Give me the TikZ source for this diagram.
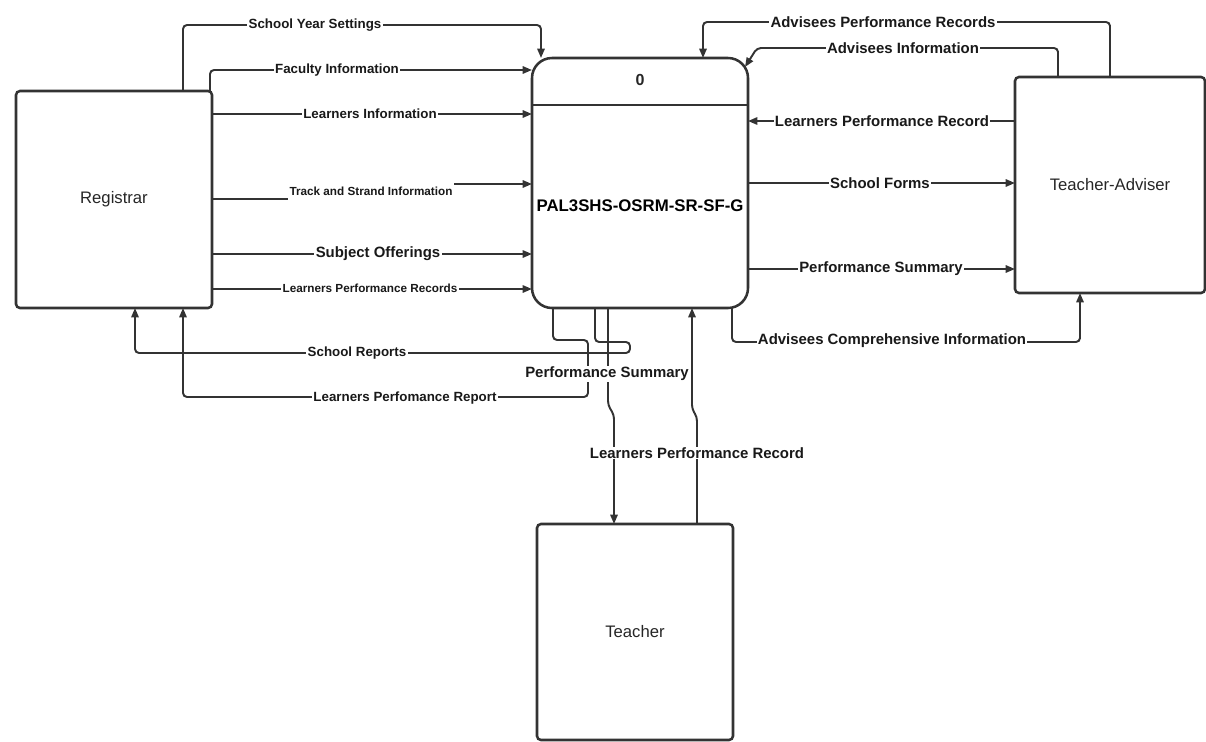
\documentclass[tikz,border=0pt]{standalone}
\usepackage{fontspec}
\setmainfont{Liberation Sans}
\usetikzlibrary{calc,arrows.meta}

\begin{document}
\begin{tikzpicture}[x=0.75pt,y=-0.75pt,
  entity/.style={draw=black!80,line width=1.9pt,rounded corners=3pt,fill=white,
    outer sep=0pt,text=black!85,font=\fontsize{12.5}{15}\selectfont},
  procbox/.style={draw=black!80,line width=1.9pt,rounded corners=15pt,fill=white,
    outer sep=0pt,minimum width=162pt,minimum height=187.5pt},
  flow/.style={draw=black!80,line width=1.45pt,rounded corners=3pt,
    -{Triangle[length=7pt,width=5.5pt]}},
  lbl/.style={fill=white,inner xsep=1pt,inner ysep=0.5pt,text=black!90,
    font=\bfseries\fontsize{11.2}{13}\selectfont},
  lblL/.style={lbl,font=\bfseries\fontsize{10}{12}\selectfont},
  lblS/.style={lbl,inner ysep=1.5pt,font=\bfseries\fontsize{8.8}{10}\selectfont}]

\useasboundingbox (0,0) rectangle (1206,742);

% external entities and the process
\node[entity,minimum width=147pt,minimum height=162.75pt] (reg) at (114,199.5) {Registrar};
\node[procbox] (proc) at (640,183) {};
\node[entity,minimum width=142.5pt,minimum height=162pt] (ta) at (1110,185) {Teacher-Adviser};
\node[entity,minimum width=147pt,minimum height=162pt] (tch) at (635,632) {Teacher};

% process header
\draw[draw=black!80,line width=1.9pt] ($(proc.north west)+(0,47)$) -- ($(proc.north east)+(0,47)$);
\node[text=black!85,font=\bfseries\fontsize{12}{14}\selectfont] (pid) at ($(proc.north)+(0,22)$) {0};
\node[text=black,font=\bfseries\fontsize{12.6}{15}\selectfont] (ptitle) at ($(proc.center)+(0,23)$) {PAL3SHS-OSRM-SR-SF-G};

% Registrar -> process
\draw[flow] ($(reg.north)+(69,0)$) |- ($(proc.north)+(-99,-33)$) -- ($(proc.north)+(-99,0)$);
\draw[flow] ($(reg.north)+(96,0)$) |- ($(proc.west)+(0,-113)$);
\coordinate (li) at ($(reg.east)+(0,-85.5)$);
\draw[flow] (li) -- (li -| proc.west);
\coordinate (ts) at ($(reg.east)+(0,-0.5)$);
\draw[flow] (ts) -- ++(158,0) -- ++(0,-15) -- ($(proc.west)+(0,1)$);
\coordinate (so) at ($(reg.east)+(0,54.5)$);
\draw[flow] (so) -- (so -| proc.west);
\coordinate (lp) at ($(reg.east)+(0,89.5)$);
\draw[flow] (lp) -- (lp -| proc.west);

% process -> Registrar
\draw[flow] ($(proc.south)+(-45,0)$) -- ++(0,34) -- ++(35,0) -- ++(0,11)
  -- ($(reg.south)+(21,45)$) -- ($(reg.south)+(21,0)$);
\draw[flow] ($(proc.south)+(-87,0)$) -- ++(0,32) -- ++(35,0) -- ++(0,57)
  -- ($(reg.south)+(69,89)$) -- ($(reg.south)+(69,0)$);

% process <-> Teacher
\draw[flow] ($(proc.south)+(-32,0)$) -- ++(0,97) -- ++(6,10) -- ($(tch.north)+(-21,0)$);
\draw[flow] ($(tch.north)+(62,0)$) -- ++(0,-107) -- ++(-5,-8) -- ($(proc.south)+(52,0)$);

% Teacher-Adviser <-> process
\draw[flow] (ta.north) |- ($(proc.north)+(63,-36)$) -- ($(proc.north)+(63,0)$);
\draw[flow] ($(ta.north)+(-52,0)$) |- ($(proc.north east)+(9,-10)$) -- ($(proc.north east)+(-3,9)$);
\coordinate (lr) at ($(ta.west)+(0,-64)$);
\draw[flow] (lr) -- (lr -| proc.east);
\draw[flow] (proc.east) -- (proc.east -| ta.west);
\coordinate (ps) at ($(proc.east)+(0,86)$);
\draw[flow] (ps) -- (ps -| ta.west);
\draw[flow] ($(proc.south)+(92,0)$) |- ($(ta.south)+(-30,49)$) -- ($(ta.south)+(-30,0)$);

% flow labels
\node[lblL] (t-sys) at (315,25) {School Year Settings};
\node[lblL] (t-fac) at (337,70) {Faculty Information};
\node[lblL] (t-lin) at (370,114) {Learners Information};
\node[lblS,minimum height=16pt] (t-trk) at (371,191.5) {Track and Strand Information};
\node[lbl]  (t-sub) at (378,254) {Subject Offerings};
\node[lblS] (t-lpr) at (370,288) {Learners Performance Records};
\node[lblL] (t-srp) at (357,353) {School Reports};
\node[lblL] (t-lrp) at (405,398) {Learners Perfomance Report};
\node[lbl]  (t-psb) at (607,374) {Performance Summary};
\node[lbl]  (t-lpb) at (697,453) {Learners Performance Record};
\node[lbl]  (t-apr) at (883,22) {Advisees Performance Records};
\node[lbl]  (t-ain) at (903,48) {Advisees Information};
\node[lbl]  (t-lpt) at (882,121) {Learners Performance Record};
\node[lbl]  (t-sfm) at (880,183) {School Forms};
\node[lbl]  (t-pst) at (881,269) {Performance Summary};
\node[lbl]  (t-aci) at (892,341) {Advisees Comprehensive Information};

\end{tikzpicture}
\end{document}
